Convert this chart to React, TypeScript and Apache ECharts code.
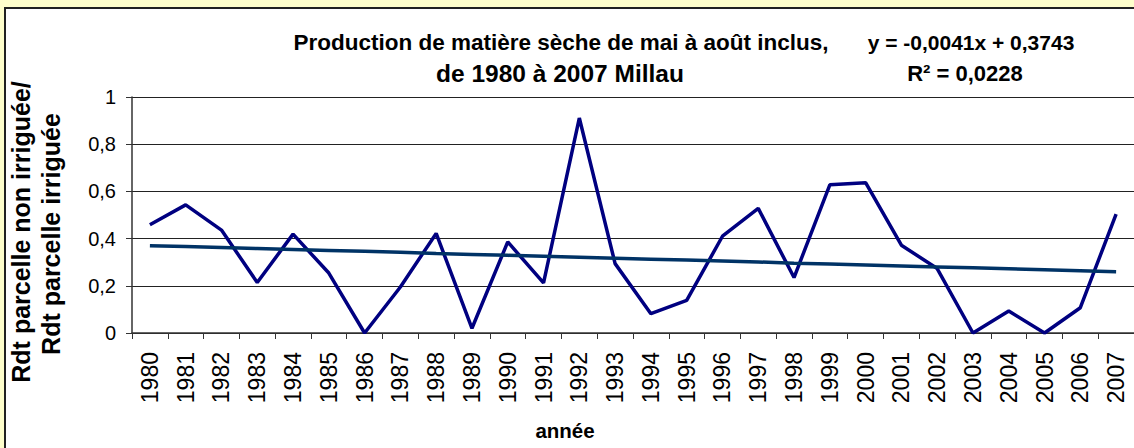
import React, { useEffect, useRef } from "react";
import * as echarts from "echarts";

const years = [
  "1980", "1981", "1982", "1983", "1984", "1985", "1986", "1987", "1988", "1989",
  "1990", "1991", "1992", "1993", "1994", "1995", "1996", "1997", "1998", "1999",
  "2000", "2001", "2002", "2003", "2004", "2005", "2006", "2007",
];

const ratio = [
  0.459, 0.543, 0.436, 0.214, 0.419, 0.254, 0.0, 0.195, 0.422, 0.02,
  0.386, 0.212, 0.911, 0.294, 0.082, 0.138, 0.41, 0.528, 0.235, 0.628,
  0.637, 0.372, 0.273, 0.0, 0.093, 0.0, 0.107, 0.504,
];

const trend = [
  0.370, 0.366, 0.362, 0.358, 0.354, 0.350, 0.346, 0.342, 0.337, 0.333,
  0.329, 0.325, 0.321, 0.317, 0.313, 0.309, 0.305, 0.301, 0.296, 0.292,
  0.288, 0.284, 0.280, 0.276, 0.272, 0.268, 0.264, 0.260,
];

const titleLines = ["Production de matière sèche de mai à août inclus,", "de 1980 à 2007 Millau"];
const equationLines = ["y = -0,0041x + 0,3743", "R² = 0,0228"];
const yAxisTitle = ["Rdt parcelle non irriguée/", "Rdt parcelle irriguée"];
const xAxisTitle = "année";

const FONT = "'Liberation Sans', Arial, sans-serif";

export default function App() {
  const ref = useRef<HTMLDivElement>(null);

  useEffect(() => {
    if (!ref.current) return;
    const chart = echarts.init(ref.current, null, { renderer: "svg" });
    const boldText = (text: string, x: number, y: number, size: number, rotation = 0) => ({
      type: "text",
      x,
      y,
      rotation,
      z: 10,
      style: {
        text,
        fontFamily: FONT,
        fontWeight: "bold",
        fontSize: size,
        fill: "#000",
        align: "center",
        verticalAlign: "middle",
      },
    });
    chart.setOption({
      animation: false,
      backgroundColor: "#FFFFCC",
      graphic: [
        {
          type: "rect",
          z: -10,
          shape: { x: 5, y: 8, width: 1200, height: 500 },
          style: { fill: "#ffffff", stroke: "#222222", lineWidth: 2 },
        },
        boldText(titleLines[0], 561, 42, 22.5),
        boldText(titleLines[1], 560, 73, 24.5),
        boldText(equationLines[0], 971, 42, 21),
        boldText(equationLines[1], 965, 73, 22),
        boldText(yAxisTitle[0], 21, 232, 25, Math.PI / 2),
        boldText(yAxisTitle[1], 51, 234, 25, Math.PI / 2),
        boldText(xAxisTitle, 565, 430, 20.5),
      ],
      grid: { left: 132, top: 97, width: 1008, height: 236, containLabel: false },
      xAxis: {
        type: "category",
        data: years,
        boundaryGap: true,
        axisLine: { lineStyle: { color: "#333", width: 1.5 } },
        axisTick: { show: true, length: 6, alignWithLabel: false, lineStyle: { color: "#333" } },
        axisLabel: {
          rotate: 90,
          interval: 0,
          margin: 19,
          fontFamily: FONT,
          fontSize: 23,
          color: "#000",
        },
        splitLine: { show: false },
      },
      yAxis: {
        type: "value",
        min: 0,
        max: 1,
        interval: 0.2,
        axisLine: { show: true, lineStyle: { color: "#333", width: 1.5 } },
        axisTick: { show: true, length: 6, inside: false, lineStyle: { color: "#333" } },
        axisLabel: {
          margin: 16,
          fontFamily: FONT,
          fontSize: 20,
          color: "#000",
          formatter: (v: number) => String(Math.round(v * 10) / 10).replace(".", ","),
        },
        splitLine: { show: true, lineStyle: { color: "#222", width: 1 } },
      },
      series: [
        {
          type: "line",
          data: ratio,
          symbol: "none",
          lineStyle: { color: "#000080", width: 3.5 },
          z: 3,
        },
        {
          type: "line",
          data: trend,
          symbol: "none",
          lineStyle: { color: "#003366", width: 3.5 },
          z: 4,
        },
      ],
    });
    return () => chart.dispose();
  }, []);

  return (
    <div style={{ position: "fixed", left: 0, top: 0, width: 1134, height: 448, overflow: "hidden" }}>
      <div ref={ref} style={{ width: 1134, height: 448 }} />
    </div>
  );
}
